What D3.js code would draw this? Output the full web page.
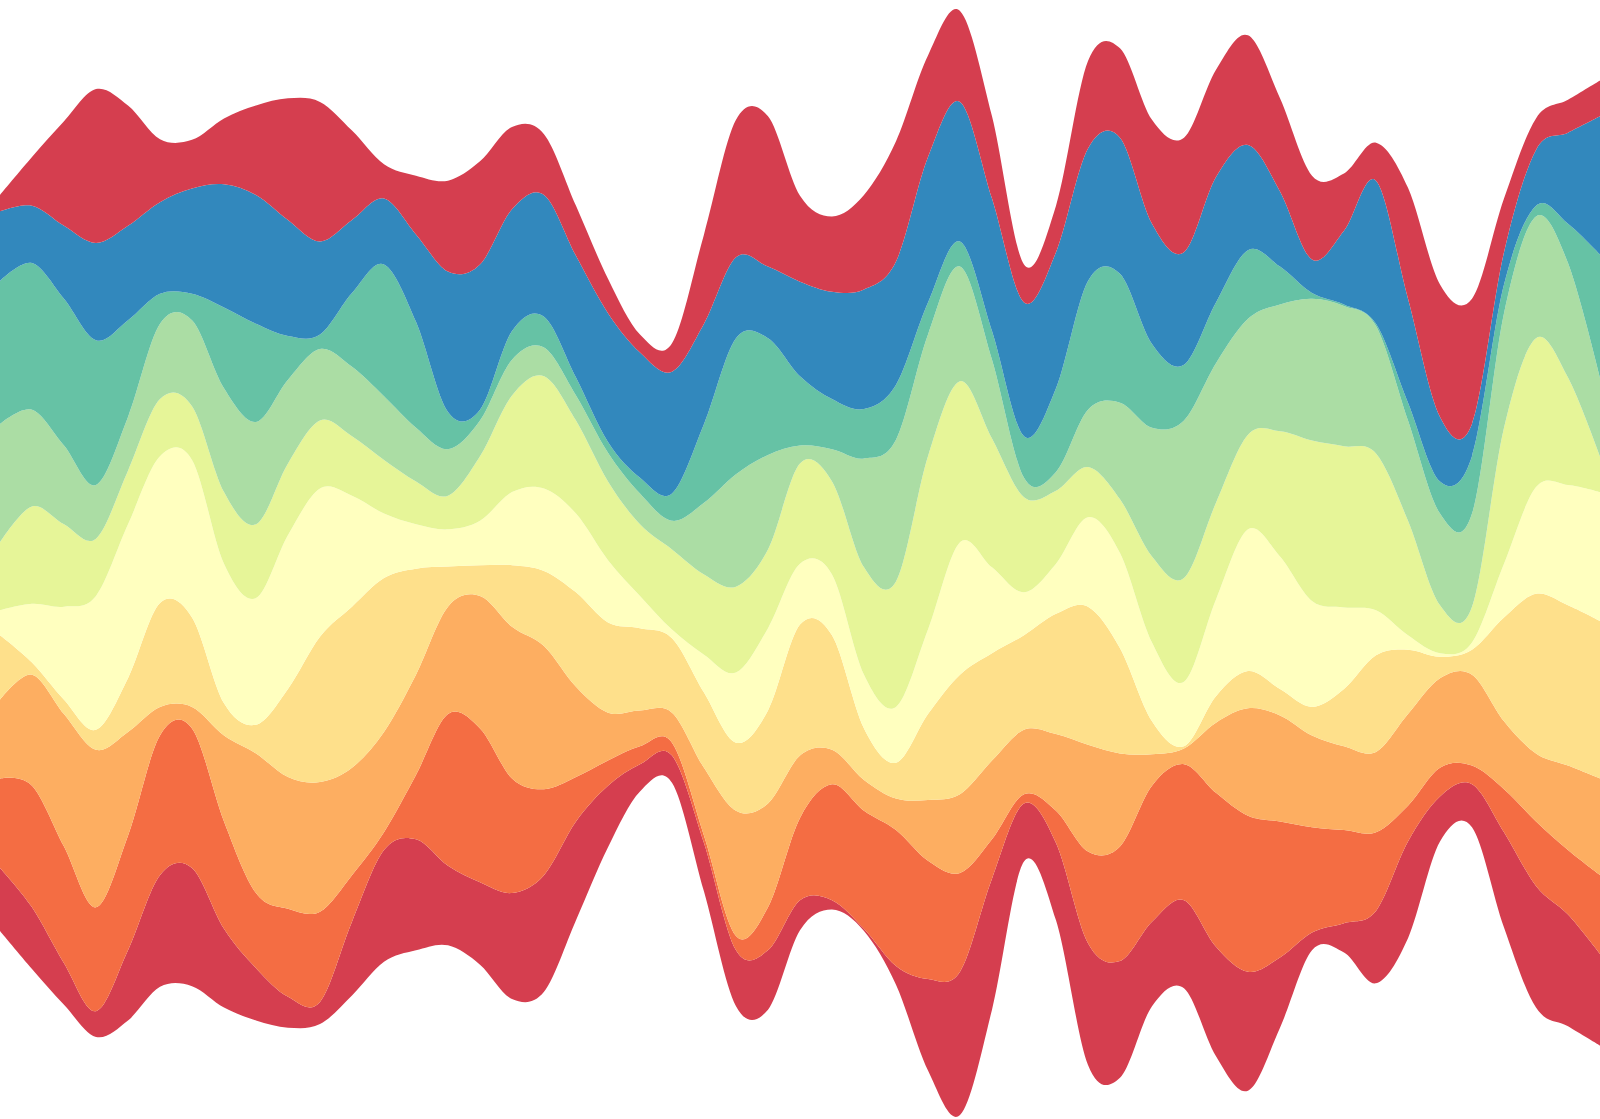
<!DOCTYPE html>
<html>
<head>
<meta charset="utf-8">
<script src="https://cdn.jsdelivr.net/npm/d3@7"></script>
<style>
  html, body { margin: 0; padding: 0; background: #fff; }
  #chart { width: 1600px; height: 1119px; }
  svg { display: block; }
</style>
</head>
<body>
<div id="chart"></div>
<script>
// one value per sample step, layers listed bottom to top
var keys = ["s0", "s1", "s2", "s3", "s4", "s5", "s6", "s7", "s8", "s9"];

var layer0 = [88,86,58,36,98,156,165,110,73,43,31,103,156,155,111,115,148,163,138,86,38,38,68,78,83,42,13,3,26,128,200,183,81,108,170,163,118,123,153,166,98,25,41,101,135,63,60,133,170,156,128];
var layer1 = [125,170,163,145,160,195,195,150,105,123,126,65,25,90,212,215,160,120,62,35,25,18,10,20,60,115,162,165,190,165,138,55,13,45,128,160,190,190,215,218,190,147,130,110,50,40,26,60,90,90,110];
var layer2 = [110,155,185,220,145,40,30,120,195,184,181,150,140,140,150,185,212,200,126,67,50,42,95,175,145,87,48,43,44,85,110,110,90,107,149,130,44,22,98,150,148,128,117,112,128,125,127,95,95,118,135];
var layer3 = [90,17,20,28,75,145,125,45,40,123,203,225,215,148,56,43,86,105,132,126,115,104,105,95,130,183,160,72,50,120,167,150,132,168,193,147,46,3,37,52,37,40,80,135,90,30,35,145,223,224,220];
var layer4 = [35,82,130,187,215,205,220,195,177,215,207,155,90,62,52,62,102,115,110,87,45,12,53,98,115,85,85,75,78,118,185,120,60,70,125,133,110,90,135,198,185,148,114,63,20,5,10,75,149,168,180];
var layer5 = [95,136,115,80,75,80,75,100,103,100,95,83,75,60,47,90,135,157,130,110,100,112,112,120,110,140,130,150,175,242,225,180,133,102,70,75,120,145,135,132,175,224,225,219,160,67,50,190,208,150,50];
var layer6 = [165,135,110,75,75,105,120,145,143,117,100,97,89,75,65,50,50,40,35,40,43,40,100,157,132,25,45,152,198,170,160,110,27,26,80,135,180,220,195,162,177,198,196,178,140,128,130,160,170,160,110];
var layer7 = [200,205,205,202,135,42,37,113,137,61,20,103,184,148,52,15,40,43,25,15,22,38,110,190,163,97,70,69,77,45,35,40,58,117,180,180,117,78,85,96,53,8,2,3,25,45,80,40,15,55,172];
var layer8 = [97,80,102,136,132,128,147,172,180,162,130,102,92,122,196,203,170,170,170,180,175,170,140,113,100,132,150,167,172,203,195,185,187,190,185,190,168,157,175,147,105,47,103,200,145,90,45,45,78,127,193];
var layer9 = [23,68,146,215,168,88,68,92,125,170,195,125,48,82,127,144,115,85,70,48,25,40,125,192,210,120,105,132,168,142,127,115,53,65,122,125,145,160,150,153,130,117,80,53,155,185,175,75,44,46,50];

var layers = [layer0, layer1, layer2, layer3, layer4, layer5, layer6, layer7, layer8, layer9];

var Chart = function(opts) {
    this.keys = opts.keys;
    this.layers = opts.layers;
    this.element = opts.element;

    this.draw();
};

Chart.prototype.draw = function() {
    this.width = this.element.offsetWidth;
    this.height = this.element.offsetHeight;
    this.margin = {top: 11, bottom: 4};

    this.buildRows();
    this.setScales();
    this.setColor();
    this.drawStream();
};

Chart.prototype.buildRows = function() {
    var _this = this;
    this.n = this.layers[0].length;
    this.rows = d3.range(this.n).map(function(i) {
        var row = {};
        _this.keys.forEach(function(k, j) { row[k] = _this.layers[j][i]; });
        return row;
    });

    this.series = d3.stack()
        .keys(this.keys)
        .order(d3.stackOrderNone)
        .offset(d3.stackOffsetSilhouette)(this.rows);
};

Chart.prototype.setScales = function() {
    this.x = d3.scaleLinear()
        .domain([0, this.n - 1])
        .range([0, this.width]);

    this.y = d3.scaleLinear()
        .domain([
            d3.min(this.series, function(s) { return d3.min(s, function(d) { return d[0]; }); }),
            d3.max(this.series, function(s) { return d3.max(s, function(d) { return d[1]; }); })
        ])
        .range([this.height - this.margin.bottom, this.margin.top]);
};

Chart.prototype.setColor = function() {
    // 9 spectral colours, the tenth layer wraps back to the first
    this.color = d3.scaleOrdinal()
        .domain(this.keys)
        .range(d3.schemeSpectral[9]);
};

Chart.prototype.drawStream = function() {
    var _this = this;

    this.area = d3.area()
        .x(function(d, i) { return _this.x(i); })
        .y0(function(d) { return _this.y(d[0]); })
        .y1(function(d) { return _this.y(d[1]); })
        .curve(d3.curveCardinal.tension(0));

    this.element.innerHTML = '';
    this.svg = d3.select(this.element).append('svg');
    this.svg.attr('width', this.width);
    this.svg.attr('height', this.height);

    this.svg.append("g")
        .attr("class", "layers")
        .selectAll("path")
        .data(this.series)
        .enter().append("path")
        .attr("fill", function(d) { return _this.color(d.key); })
        .attr("d", this.area);
};

var chart = new Chart({
    keys: keys,
    layers: layers,
    element: document.getElementById("chart")
});
</script>
</body>
</html>
